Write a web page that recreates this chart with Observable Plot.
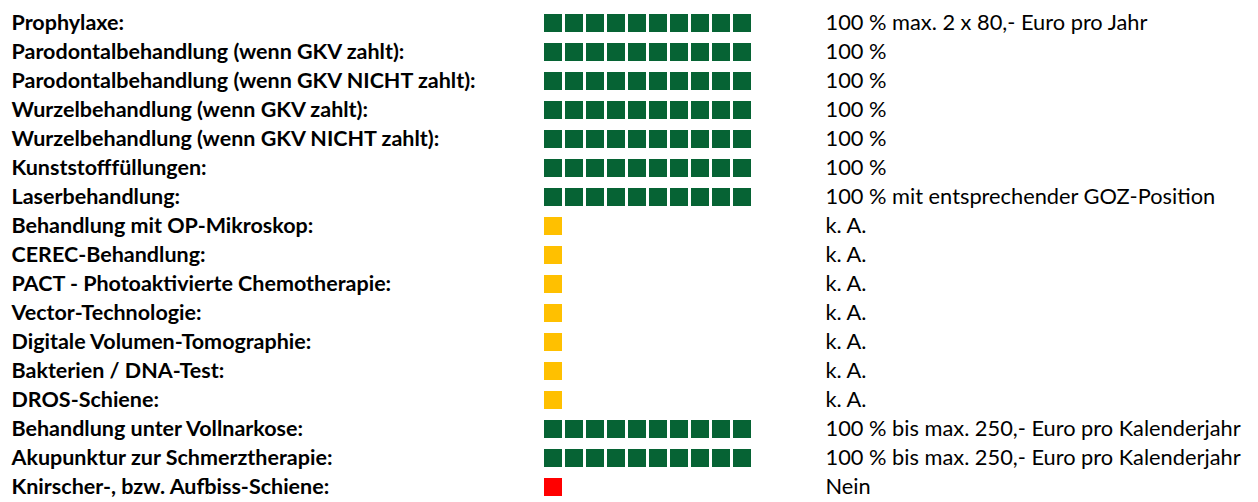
<!DOCTYPE html>
<html>
<head>
<meta charset="utf-8">
<script src="https://cdn.jsdelivr.net/npm/d3@7"></script>
<script src="https://cdn.jsdelivr.net/npm/@observablehq/plot@0.6"></script>
<style>
  html, body { margin: 0; padding: 0; background: #ffffff; }
  #chart svg { display: block; }
</style>
</head>
<body>
<div id="chart"></div>
<script>
const categories = [
  "Prophylaxe",
  "Parodontalbehandlung (wenn GKV zahlt)",
  "Parodontalbehandlung (wenn GKV NICHT zahlt)",
  "Wurzelbehandlung (wenn GKV zahlt)",
  "Wurzelbehandlung (wenn GKV NICHT zahlt)",
  "Kunststofffüllungen",
  "Laserbehandlung",
  "Behandlung mit OP-Mikroskop",
  "CEREC-Behandlung",
  "PACT - Photoaktivierte Chemotherapie",
  "Vector-Technologie",
  "Digitale Volumen-Tomographie",
  "Bakterien / DNA-Test",
  "DROS-Schiene",
  "Behandlung unter Vollnarkose",
  "Akupunktur zur Schmerztherapie",
  "Knirscher-, bzw. Aufbiss-Schiene"
];

// Erstattung in Prozent (null = keine Angabe)
const coverage = [100, 100, 100, 100, 100, 100, 100, null, null, null, null, null, null, null, 100, 100, 0];

const status = ["ja", "ja", "ja", "ja", "ja", "ja", "ja", "k. A.", "k. A.", "k. A.", "k. A.", "k. A.", "k. A.", "k. A.", "ja", "ja", "nein"];

const notes = [
  "100 % max. 2 x 80,- Euro pro Jahr",
  "100 %",
  "100 %",
  "100 %",
  "100 %",
  "100 %",
  "100 % mit entsprechender GOZ-Position",
  "k. A.",
  "k. A.",
  "k. A.",
  "k. A.",
  "k. A.",
  "k. A.",
  "k. A.",
  "100 % bis max. 250,- Euro pro Kalenderjahr",
  "100 % bis max. 250,- Euro pro Kalenderjahr",
  "Nein"
];

const statusKeys = ["ja", "k. A.", "nein"];
const statusColors = ["#066334", "#FFC000", "#FF0000"];

const rows = categories.map((c, i) => ({ c, cov: coverage[i], status: status[i], note: notes[i] }));
// 10 squares = 100 %; one square marks "k. A." or "Nein"
const cells = rows.flatMap(r => {
  const n = r.status === "ja" ? Math.round(r.cov / 10) : 1;
  return d3.range(n).map(k => ({ c: r.c, k, status: r.status }));
});

const chart = Plot.plot({
  width: 1258,
  height: 502,
  marginLeft: 542,
  marginRight: 505,
  marginTop: 12,
  marginBottom: 3.3,
  style: { fontFamily: "Lato, 'Open Sans', sans-serif", fontSize: "21.5px", background: "#ffffff", color: "#000000" },
  x: { type: "band", domain: d3.range(10), paddingInner: 0.15, paddingOuter: 0, axis: null },
  y: { type: "band", domain: categories, paddingInner: 0.386, paddingOuter: 0, axis: null },
  color: { domain: statusKeys, range: statusColors },
  marks: [
    Plot.cell(cells, { x: "k", y: "c", fill: "status", inset: 0 }),
    Plot.text(rows, { y: "c", text: d => d.c + ":", frameAnchor: "left", textAnchor: "start", dx: -531, fontWeight: "bold", fontSize: 21.5, fill: "#000" }),
    Plot.text(rows, { y: "c", text: "note", frameAnchor: "right", textAnchor: "start", dx: 72, fontSize: 21.8, fill: "#000" })
  ]
});
document.getElementById("chart").appendChild(chart);
</script>
</body>
</html>
